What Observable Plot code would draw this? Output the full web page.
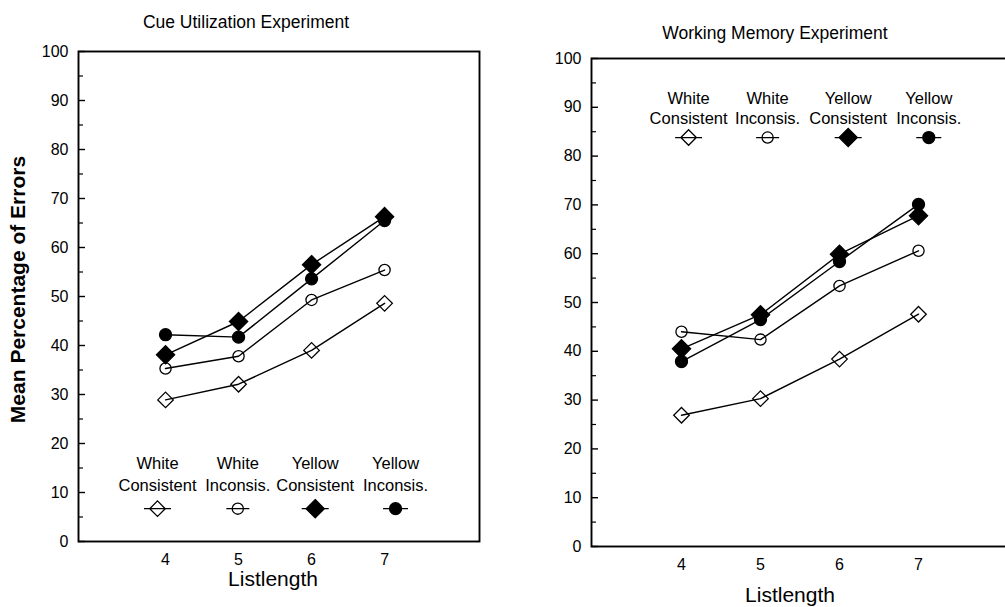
<!DOCTYPE html>
<html><head><meta charset="utf-8">
<script src="https://cdn.jsdelivr.net/npm/d3@7"></script>
<script src="https://cdn.jsdelivr.net/npm/@observablehq/plot@0.6"></script>
<style>
body{margin:0;background:#fff;}
#wrap{position:relative;width:1005px;height:607px;overflow:hidden;background:#fff;}
#wrap svg{position:absolute;top:0;font-family:"Liberation Sans",Arial,Helvetica,sans-serif;color:#000;}
</style></head><body><div id="wrap"></div>
<script>
// ---- data ----
const listLengths = [4, 5, 6, 7];
const seriesNames = ["White Consistent", "White Inconsis.", "Yellow Consistent", "Yellow Inconsis."];
const legendLine1 = ["White", "White", "Yellow", "Yellow"];
const legendLine2 = ["Consistent", "Inconsis.", "Consistent", "Inconsis."];
const yTicks = [0, 10, 20, 30, 40, 50, 60, 70, 80, 90, 100];
const yMinorTicks = [5, 15, 25, 35, 45, 55, 65, 75, 85, 95];

const cueWhiteConsistent  = [28.9, 32.1, 39.0, 48.6];
const cueWhiteInconsis    = [35.3, 37.8, 49.3, 55.4];
const cueYellowConsistent = [38.1, 44.9, 56.5, 66.3];
const cueYellowInconsis   = [42.2, 41.7, 53.6, 65.5];

const wmWhiteConsistent  = [26.9, 30.3, 38.4, 47.6];
const wmWhiteInconsis    = [44.0, 42.4, 53.4, 60.6];
const wmYellowConsistent = [40.5, 47.5, 59.9, 67.8];
const wmYellowInconsis   = [37.9, 46.5, 58.4, 70.1];

// ---- styles / layout ----
const font = '"Liberation Sans", Arial, Helvetica, sans-serif';
const markerStyles = [
  {kind: "diamond", fill: "none", r: 7.0, half: 13.5},
  {kind: "circle", fill: "none", r: 5.6, half: 11.5},
  {kind: "diamond", fill: "black", r: 8.2, half: 13.5},
  {kind: "circle", fill: "black", r: 6.0, half: 12.5}
];
function legendSymbol(kind, half) {
  return {
    draw(ctx, size) {
      const rr = Math.sqrt(size / Math.PI);
      ctx.moveTo(-half, 0); ctx.lineTo(half, 0);
      if (kind === "diamond") {
        const d = rr * 1.11;
        ctx.moveTo(0, -d); ctx.lineTo(d, 0); ctx.lineTo(0, d); ctx.lineTo(-d, 0); ctx.closePath();
      } else {
        ctx.moveTo(rr, 0); ctx.arc(0, 0, rr, 0, 2 * Math.PI);
      }
    }
  };
}

function panel(cfg) {
  const series = cfg.values.map((vals, i) =>
    listLengths.map((x, j) => ({x, y: vals[j], s: seriesNames[i]})));
  const marks = [
    Plot.frame({stroke: "black", strokeWidth: 1.9}),
    Plot.axisY(yTicks, {tickSize: -7, tickFormat: () => "", strokeWidth: 1.4, label: null}),
    Plot.axisY(yMinorTicks, {tickSize: -5, tickFormat: () => "", strokeWidth: 1.2, label: null}),
    Plot.axisY(yTicks, {tickSize: 0, tickPadding: 10, fontSize: 16, label: null}),
    Plot.axisX(listLengths, {tickSize: 0, tickPadding: 12, fontSize: 16, label: null}),
    Plot.text([cfg.title], {frameAnchor: "top", lineAnchor: "middle", dx: cfg.titleDx, dy: cfg.titleDy, fontSize: 17.5, fontFamily: font}),
    Plot.text(["Listlength"], {frameAnchor: "bottom", lineAnchor: "middle", dx: cfg.xLabelDx, dy: cfg.xLabelDy, fontSize: 21, fontFamily: font})
  ];
  series.forEach((pts, i) => {
    const st = markerStyles[i];
    marks.push(Plot.line(pts, {x: "x", y: "y", stroke: "black", strokeWidth: 1.4}));
    marks.push(Plot.dot(pts, {x: "x", y: "y", symbol: st.kind === "diamond" ? "diamond2" : "circle",
      r: st.r, fill: st.fill, stroke: "black", strokeWidth: 1.3}));
    // legend entry
    const lx = cfg.legendX[i];
    marks.push(Plot.text([legendLine1[i]], {x: () => lx, y: () => cfg.legendY[0], fontSize: 16.5, fontFamily: font}));
    marks.push(Plot.text([legendLine2[i]], {x: () => lx, y: () => cfg.legendY[1], fontSize: 16.5, fontFamily: font}));
    marks.push(Plot.dot([seriesNames[i]], {x: () => lx, y: () => cfg.legendY[2],
      symbol: legendSymbol(st.kind, st.half), r: st.r, fill: st.fill, stroke: "black", strokeWidth: 1.3}));
  });
  if (cfg.yLabel) {
    marks.push(Plot.text([cfg.yLabel], {frameAnchor: "left", textAnchor: "middle", lineAnchor: "middle", rotate: -90,
      dx: cfg.yLabelDx, dy: cfg.yLabelDy, fontSize: 21, fontWeight: "bold", fontFamily: font}));
  }
  const svg = Plot.plot({
    width: cfg.width, height: 607,
    marginLeft: cfg.ml, marginRight: cfg.mr, marginTop: cfg.mt, marginBottom: cfg.mb,
    style: {fontFamily: font, fontSize: "16px", background: "transparent", overflow: "visible"},
    x: {domain: cfg.xDomain},
    y: {domain: [0, 100]},
    marks
  });
  svg.style.left = cfg.left + "px";
  return svg;
}

const wrap = document.getElementById("wrap");
wrap.appendChild(panel({
  left: 0, width: 500, ml: 78, mr: 21, mt: 51, mb: 66,
  xDomain: [2.808, 8.30],
  values: [cueWhiteConsistent, cueWhiteInconsis, cueYellowConsistent, cueYellowInconsis],
  title: "Cue Utilization Experiment", titleDx: -33, titleDy: -29,
  xLabelDx: -6, xLabelDy: 38,
  legendX: [3.89, 4.99, 6.05, 7.15], legendY: [15.9, 11.4, 6.7],
  yLabel: "Mean Percentage of Errors", yLabelDx: -60, yLabelDy: -7
}));
wrap.appendChild(panel({
  left: 500, width: 510, ml: 91, mr: 2, mt: 58, mb: 61,
  xDomain: [2.861, 8.139],
  values: [wmWhiteConsistent, wmWhiteInconsis, wmYellowConsistent, wmYellowInconsis],
  title: "Working Memory Experiment", titleDx: -25, titleDy: -25,
  xLabelDx: -10, xLabelDy: 49,
  legendX: [4.09, 5.09, 6.11, 7.13], legendY: [91.8, 87.7, 83.8]
}));
</script></body></html>
